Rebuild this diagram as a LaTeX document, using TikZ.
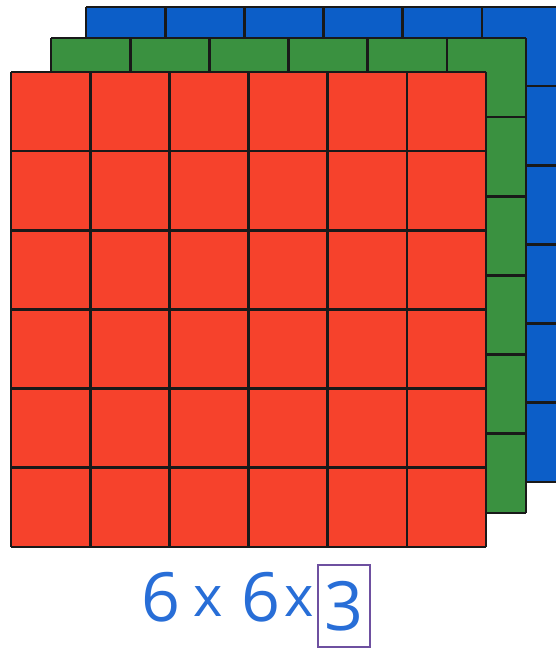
\documentclass[tikz,border=0pt]{standalone}
\usepackage{fontspec}
\newfontfamily\handfont{Open Sans}
\definecolor{layerred}{RGB}{246,66,44}
\definecolor{layergreen}{RGB}{58,145,64}
\definecolor{layerblue}{RGB}{12,94,200}
\definecolor{inkblue}{RGB}{40,110,215}
\definecolor{inkpurple}{RGB}{110,80,160}
\begin{document}
\begin{tikzpicture}[x=1pt, y=1pt,
    cell/.style={draw=black!90, line width=2.7pt},
    hand/.style={inkblue, font=\handfont\fontsize{68}{68}\selectfont, inner sep=0pt},
    times/.style={hand, font=\handfont\fontsize{56}{56}\selectfont}]
    \useasboundingbox (0,0) rectangle (556,650);
    \clip (0,0) rectangle (556,650);

    % three layers, back to front
    \foreach \name/\xx/\yy in {layerblue/86/168, layergreen/51/137, layerred/11/103} {
      \begin{scope}[shift={(\xx,\yy)}, x=79.17pt, y=79.17pt]
        \fill[\name] (0,0) rectangle (6,6);
        \draw[cell, step=1] (0,0) grid (6,6);
      \end{scope}
    }

    % label under the layers
    \node[hand] (c1) at (161,53) {6};
    \node[times] (c2) at (208,48) {x};
    \node[hand] (c3) at (261,53) {6};
    \node[times] (c4) at (299,48) {x};
    \node[hand, draw=inkpurple, line width=2pt, minimum width=52pt,
          minimum height=82pt] (depth) at (344,44) {3};
\end{tikzpicture}
\end{document}
